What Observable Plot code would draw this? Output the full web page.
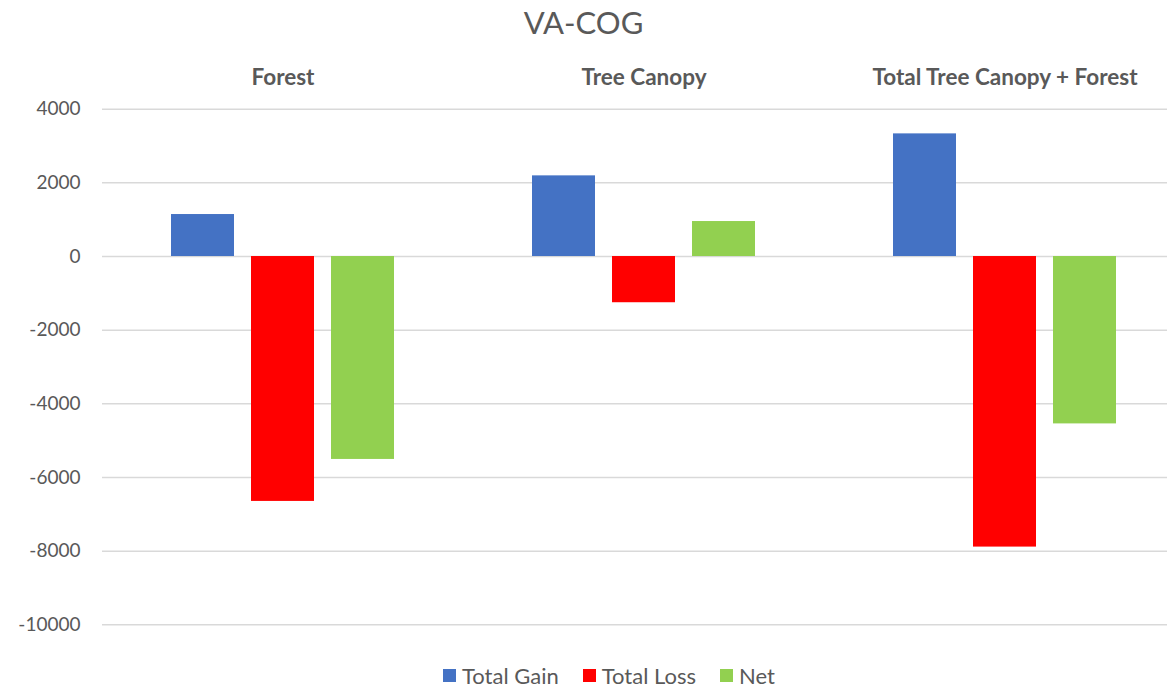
<!DOCTYPE html>
<html>
<head>
<meta charset="utf-8">
<script src="https://cdn.jsdelivr.net/npm/d3@7"></script>
<script src="https://cdn.jsdelivr.net/npm/@observablehq/plot@0.6"></script>
<style>
  html, body { margin: 0; padding: 0; background: #fff; }
  body { width: 1167px; height: 687px; overflow: hidden; position: relative; font-family: Lato, "Open Sans", sans-serif; color: #595959; }
  #title { height: 44px; line-height: 44px; text-align: center; font-size: 31px; color: #595959; }
  #chart svg { display: block; overflow: hidden; }
  #legend { position: absolute; left: 443px; top: 660px; height: 30px; display: flex; align-items: center; gap: 24px; font-size: 22px; color: #595959; }
  #legend .item { display: flex; align-items: center; gap: 6px; }
  #legend .sw { width: 13px; height: 13px; display: inline-block; }
</style>
</head>
<body>
<div id="title">VA-COG</div>
<div id="chart"></div>
<div id="legend"></div>
<script>
// Data
const categories = ["Forest", "Tree Canopy", "Total Tree Canopy + Forest"];
const seriesNames = ["Total Gain", "Total Loss", "Net"];
const totalGain = [1140, 2190, 3330];
const totalLoss = [-6650, -1255, -7890];
const net = [-5510, 950, -4545];
const yTicks = [4000, 2000, 0, -2000, -4000, -6000, -8000, -10000];
const colors = ["#4472C4", "#FF0000", "#92D050"];

const seriesValues = [totalGain, totalLoss, net];
const rows = [];
categories.forEach((c, i) => {
  seriesNames.forEach((s, j) => {
    rows.push({category: c, series: s, value: seriesValues[j][i]});
  });
});

const W = 1167;
const step = 361.6;
const left = 101.5;

const chart = Plot.plot({
  width: W,
  height: 600,
  marginTop: 64.7,
  marginBottom: 19.7,
  marginLeft: 102,
  marginRight: 0,
  style: {fontFamily: "Lato, 'Open Sans', sans-serif", color: "#595959", background: "#fff"},
  fx: {domain: categories, range: [left, left + 3 * step], padding: 0, label: null},
  x: {domain: seriesNames, paddingInner: 0.21, paddingOuter: 0.86, axis: null},
  y: {domain: [-10000, 4000], label: null},
  color: {domain: seriesNames, range: colors},
  marks: [
    Plot.ruleY(yTicks, {stroke: "#D9D9D9", strokeWidth: 1.5}),
    Plot.barY(rows, {fx: "category", x: "series", y: "value", fill: "series"}),
    Plot.axisY({ticks: yTicks, tickSize: 0, tickPadding: 22, fontSize: 19, fill: "#595959", tickFormat: d => d3.format("d")(d).replace("−", "-"), label: null, facetAnchor: "left"}),
    Plot.axisFx({anchor: "top", tickSize: 0, tickPadding: 24, fontSize: 22.5, fontWeight: "bold", fill: "#595959", label: null})
  ]
});
document.getElementById("chart").appendChild(chart);

const legend = document.getElementById("legend");
seriesNames.forEach((s, j) => {
  const it = document.createElement("span");
  it.className = "item";
  const sw = document.createElement("span");
  sw.className = "sw";
  sw.style.background = colors[j];
  const t = document.createElement("span");
  t.textContent = s;
  it.appendChild(sw); it.appendChild(t);
  legend.appendChild(it);
});
</script>
</body>
</html>
